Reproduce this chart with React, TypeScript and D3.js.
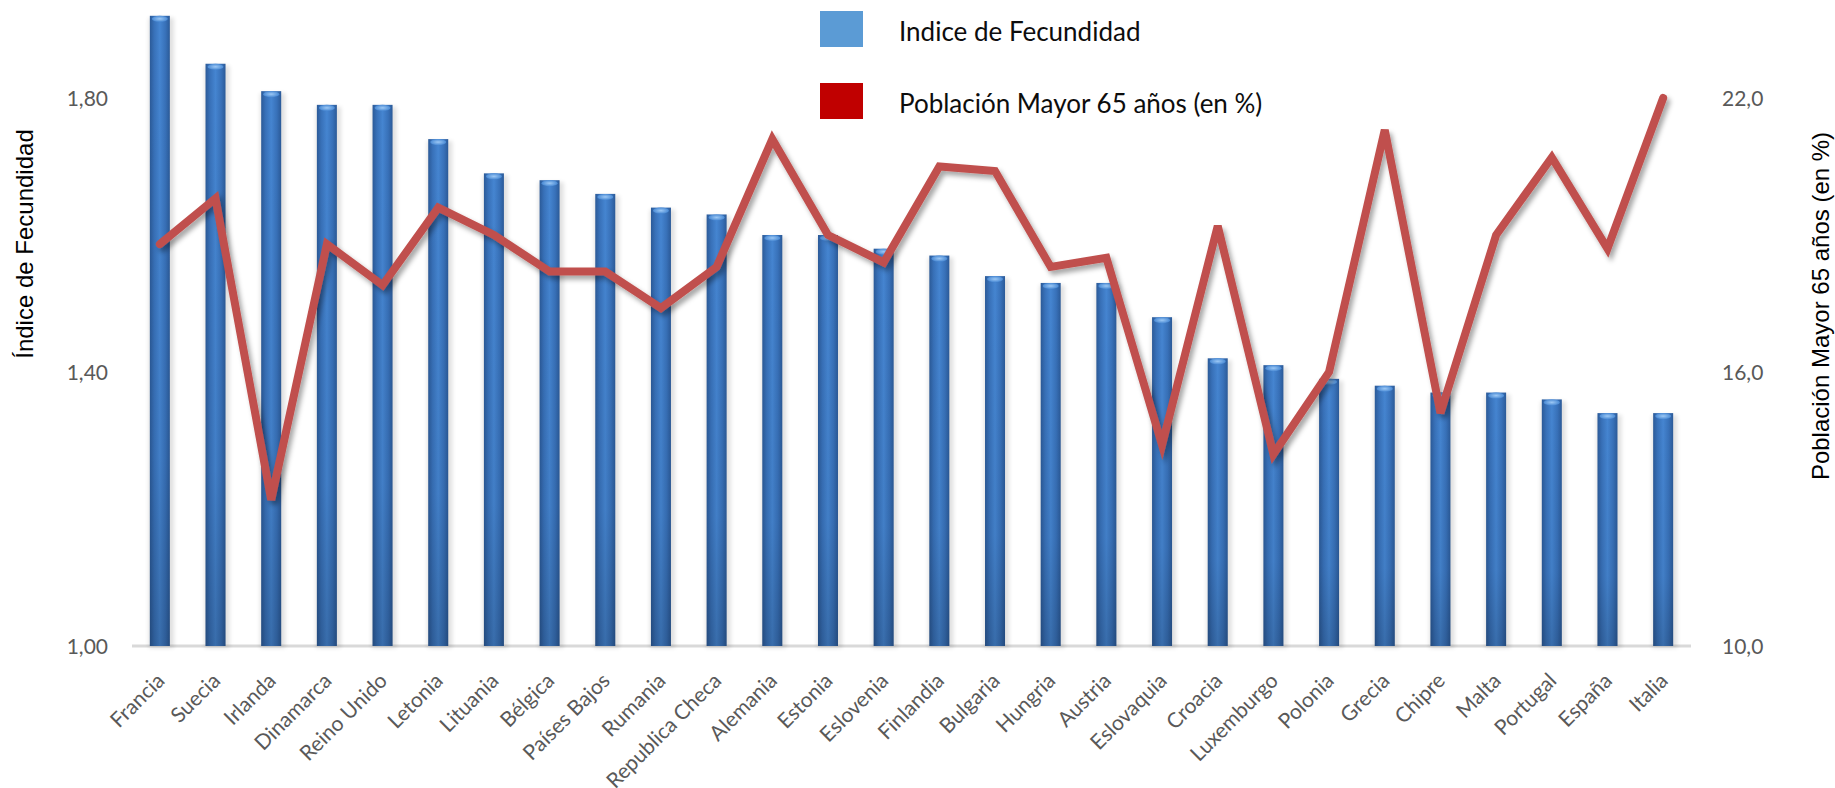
import React from "react";
import * as d3 from "d3";

const countries = [
  "Francia", "Suecia", "Irlanda", "Dinamarca", "Reino Unido", "Letonia", "Lituania",
  "Bélgica", "Países Bajos", "Rumania", "Republica Checa", "Alemania", "Estonia",
  "Eslovenia", "Finlandia", "Bulgaria", "Hungria", "Austria", "Eslovaquia", "Croacia",
  "Luxemburgo", "Polonia", "Grecia", "Chipre", "Malta", "Portugal", "España", "Italia",
];

// Índice de fecundidad (eje izquierdo)
const fertility = [
  1.92, 1.85, 1.81, 1.79, 1.79, 1.74, 1.69, 1.68, 1.66, 1.64, 1.63, 1.6, 1.6, 1.58,
  1.57, 1.54, 1.53, 1.53, 1.48, 1.42, 1.41, 1.39, 1.38, 1.37, 1.37, 1.36, 1.34, 1.34,
];

// Población mayor de 65 años en % (eje derecho)
const over65 = [
  18.8, 19.8, 13.2, 18.8, 17.9, 19.6, 19.0, 18.2, 18.2, 17.4, 18.3, 21.1, 19.0, 18.4,
  20.5, 20.4, 18.3, 18.5, 14.4, 19.2, 14.2, 16.0, 21.3, 15.1, 19.0, 20.7, 18.7, 22.0,
];

const leftTicks = [1.0, 1.4, 1.8];
const rightTicks = [10, 16, 22];

const legendItems = [
  { label: "Indice de Fecundidad", color: "#5b9bd5" },
  { label: "Población Mayor 65 años (en %)", color: "#c00000" },
];

const W = 1835;
const H = 788;
const base = 646;
const top = 98;
const barW = 20;
const calibri = "Lato, 'Open Sans', sans-serif";
const arial = "'Liberation Sans', Arial, sans-serif";

const App = () => {
  const x = d3.scalePoint<string>().domain(countries).range([132, 1691]).padding(0.5);
  const yL = d3.scaleLinear().domain([1.0, 1.8]).range([base, top]);
  const yR = d3.scaleLinear().domain([10, 22]).range([base, top]);

  const fmtL = (v: number) => v.toFixed(2).replace(".", ",");
  const fmtR = (v: number) => v.toFixed(1).replace(".", ",");

  const line = d3
    .line<number>()
    .x((_, i) => x(countries[i]) as number)
    .y((d) => yR(d));

  return (
    <svg
      width={W}
      height={H}
      style={{ position: "absolute", left: 0, top: 0, background: "#fff" }}
    >
      <defs>
        <linearGradient id="barH" x1="0" x2="1" y1="0" y2="0">
          <stop offset="0%" stopColor="#2b5a98" />
          <stop offset="22%" stopColor="#3871b9" />
          <stop offset="50%" stopColor="#4585d1" />
          <stop offset="78%" stopColor="#3871b9" />
          <stop offset="100%" stopColor="#2b5a98" />
        </linearGradient>
        <linearGradient id="barV" x1="0" x2="0" y1="0" y2="1">
          <stop offset="0%" stopColor="#000" stopOpacity="0" />
          <stop offset="70%" stopColor="#000" stopOpacity="0.05" />
          <stop offset="100%" stopColor="#000" stopOpacity="0.18" />
        </linearGradient>
        <radialGradient id="cap" cx="0.5" cy="0.5" r="0.5">
          <stop offset="0%" stopColor="#9cc8f5" />
          <stop offset="100%" stopColor="#4a8ad4" />
        </radialGradient>
        <filter id="barShadow" x="-50%" y="-5%" width="200%" height="110%">
          <feGaussianBlur stdDeviation="2" />
        </filter>
        <filter id="lineShadow" x="-5%" y="-10%" width="110%" height="120%">
          <feDropShadow dx="3" dy="4" stdDeviation="2.5" floodColor="#000" floodOpacity="0.35" />
        </filter>
      </defs>

      {/* eje horizontal */}
      <line x1={132} x2={1691} y1={base} y2={base} stroke="#d9d9d9" strokeWidth={3} />

      {/* barras */}
      <g>
        {countries.map((c, i) => {
          const cx = x(c) as number;
          const yt = yL(fertility[i]);
          return (
            <g key={c}>
              <rect
                x={cx - barW / 2 - 1}
                y={yt + 2}
                width={barW + 5}
                height={base - yt}
                fill="#000"
                opacity={0.12}
                filter="url(#barShadow)"
              />
              <rect x={cx - barW / 2} y={yt} width={barW} height={base - yt} fill="url(#barH)" />
              <rect x={cx - barW / 2} y={yt} width={barW} height={base - yt} fill="url(#barV)" />
              <ellipse cx={cx} cy={yt + 3} rx={barW / 2 - 2} ry={3} fill="url(#cap)" />
            </g>
          );
        })}
      </g>

      {/* línea */}
      <path
        d={line(over65) as string}
        fill="none"
        stroke="#c0504d"
        strokeWidth={8}
        strokeLinejoin="miter"
        strokeLinecap="round"
        filter="url(#lineShadow)"
      />

      {/* eje izquierdo */}
      {leftTicks.map((t) => (
        <text
          key={t}
          x={108}
          y={yL(t)}
          dy="0.36em"
          textAnchor="end"
          fontFamily={calibri}
          fontSize={21}
          fill="#595959"
        >
          {fmtL(t)}
        </text>
      ))}

      {/* eje derecho */}
      {rightTicks.map((t) => (
        <text
          key={t}
          x={1722}
          y={yR(t)}
          dy="0.36em"
          textAnchor="start"
          fontFamily={calibri}
          fontSize={21}
          fill="#595959"
        >
          {fmtR(t)}
        </text>
      ))}

      {/* etiquetas de categoría */}
      {countries.map((c) => (
        <text
          key={c}
          transform={`translate(${(x(c) as number) + 6},${base + 36}) rotate(-45)`}
          textAnchor="end"
          fontFamily={calibri}
          fontSize={21}
          fill="#595959"
        >
          {c}
        </text>
      ))}

      {/* títulos de ejes */}
      <text
        transform={`translate(33,244) rotate(-90)`}
        textAnchor="middle"
        fontFamily={arial}
        fontSize={24}
        fill="#000"
      >
        Índice de Fecundidad
      </text>
      <text
        transform={`translate(1829,306) rotate(-90)`}
        textAnchor="middle"
        fontFamily={arial}
        fontSize={24}
        fill="#000"
      >
        Población Mayor 65 años (en %)
      </text>

      {/* leyenda */}
      {legendItems.map((d, i) => (
        <g key={d.label} transform={`translate(820,${11 + i * 72})`}>
          <rect width={43} height={36} fill={d.color} />
          <text x={79} y={30} fontFamily={calibri} fontSize={26} fill="#0d0d0d">
            {d.label}
          </text>
        </g>
      ))}
    </svg>
  );
};

export default App;
